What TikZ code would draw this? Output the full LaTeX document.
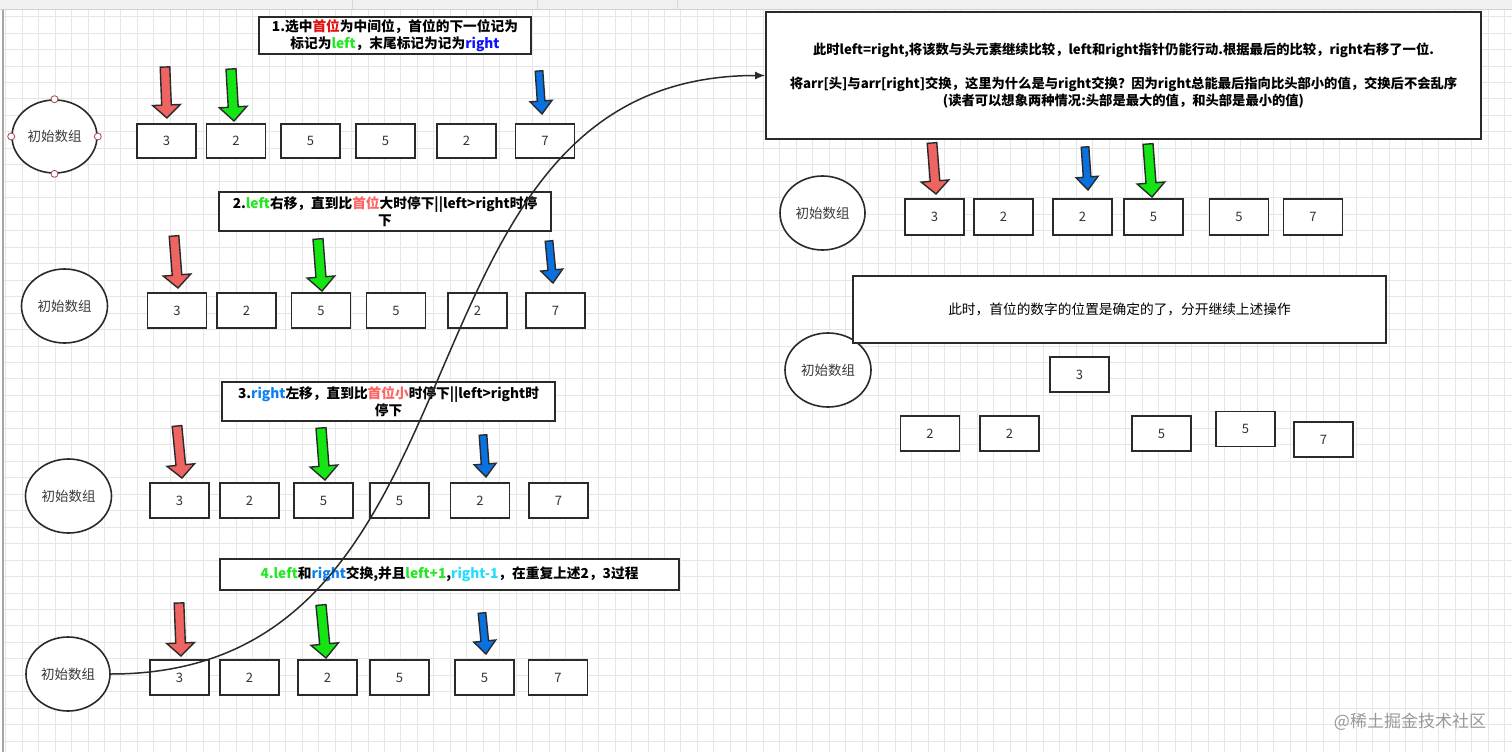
\documentclass[tikz,border=0pt]{standalone}
\usepackage{fontspec}
\setmainfont{Noto Sans CJK SC}
\usetikzlibrary{shapes.geometric,arrows.meta}
\definecolor{outl}{HTML}{2A2A2A}
\definecolor{gridc}{HTML}{E6E6E6}
\definecolor{numtxt}{HTML}{333333}
\definecolor{ovtxt}{HTML}{3A3A3A}
\definecolor{ared}{HTML}{EE6461}
\definecolor{agreen}{HTML}{14E614}
\definecolor{ablue}{HTML}{0A72E0}
\definecolor{cred}{HTML}{E51010}
\definecolor{lgreen}{HTML}{22E822}
\definecolor{dblue}{HTML}{1010FF}
\definecolor{salmon}{HTML}{FF6464}
\definecolor{mblue}{HTML}{0A7FF0}
\definecolor{ccyan}{HTML}{22DDFF}
\definecolor{handle}{HTML}{A0464E}
\newcommand\barr[8]{%
  \pgfmathsetmacro\BAdx{#3-#1}\pgfmathsetmacro\BAdy{#4-#2}%
  \pgfmathsetmacro\BAln{sqrt((\BAdx)*(\BAdx)+(\BAdy)*(\BAdy))}%
  \pgfmathsetmacro\BAux{(\BAdx)/(\BAln)}\pgfmathsetmacro\BAuy{(\BAdy)/(\BAln)}%
  \pgfmathsetmacro\BAbx{#3-#8*(\BAux)}\pgfmathsetmacro\BAby{#4-#8*(\BAuy)}%
  \draw[fill=#5, draw=outl, line width=1.4, line join=miter]
    (#3,#4) -- ({\BAbx-#7*(\BAuy)},{\BAby+#7*(\BAux)})
    -- ({\BAbx-#6*(\BAuy)},{\BAby+#6*(\BAux)})
    -- ({#1-#6*(\BAuy)},{#2+#6*(\BAux)})
    -- ({#1+#6*(\BAuy)},{#2-#6*(\BAux)})
    -- ({\BAbx+#6*(\BAuy)},{\BAby-#6*(\BAux)})
    -- ({\BAbx+#7*(\BAuy)},{\BAby-#7*(\BAux)}) -- cycle;}
\newcommand\redarr[4]{\barr{#1}{#2}{#3}{#4}{ared}{4.8}{13.8}{13}}
\newcommand\greenarr[4]{\barr{#1}{#2}{#3}{#4}{agreen}{5}{13.8}{14}}
\newcommand\bluearr[4]{\barr{#1}{#2}{#3}{#4}{ablue}{3.8}{11}{13}}
\tikzset{
  numbox/.style={draw=outl, line width=1.8, fill=white, minimum width=59, minimum height=35, inner sep=0,
    font=\fontsize{13}{15}\selectfont, text=numtxt},
  oval/.style={ellipse, draw=outl, line width=1.6, fill=white, minimum width=86, minimum height=74, inner sep=0,
    font=\fontsize{13.5}{15}\selectfont, text=ovtxt},
  note/.style={draw=outl, line width=1.8, fill=white, inner sep=0, align=center,
    font=\bfseries\fontsize{13.7}{17}\selectfont, text=black},
  hdl/.style={circle, draw=handle, fill=white, line width=0.8, minimum size=7, inner sep=0},
}
\begin{document}
\begin{tikzpicture}[x=1pt,y=-1pt]
\useasboundingbox (0,0) rectangle (1512,752);
\fill[white] (0,0) rectangle (1512,752);
% grid
\foreach \i in {0,...,91} \draw[gridc, line width=0.8] ({5.6+16.47*\i},10) -- ({5.6+16.47*\i},752);
\foreach \j in {0,...,45} \draw[gridc, line width=0.8] (4,{16.5+16.47*\j}) -- (1512,{16.5+16.47*\j});
% top strip and left edge
\fill[black!6] (0,0) rectangle (1512,9);
\draw[black!18, line width=0.8] (0,9.5) -- (1512,9.5);
\foreach \sx in {352,537,677} \draw[black!15, line width=0.8] (\sx,0) -- (\sx,9);
\draw[black!35, line width=1.2] (3,10) -- (3,752);

% ---------- row 1
\node[oval, minimum width=85, minimum height=73] (e1) at (54.5,136.5) {初始数组};
\node[hdl] (h1) at (e1.north) {};
\node[hdl] (h2) at (e1.south) {};
\node[hdl] (h3) at (e1.west) {};
\node[hdl] (h4) at (e1.east) {};
\node[numbox, minimum height=34] (a1) at (166.5,141) {3};
\node[numbox, minimum height=34] (a2) at (236,141) {2};
\node[numbox, minimum height=34] (a3) at (310.5,141) {5};
\node[numbox, minimum height=34] (a4) at (385.5,141) {5};
\node[numbox, minimum height=34] (a5) at (466.5,141) {2};
\node[numbox, minimum height=34] (a6) at (545,141) {7};
\node[note, minimum width=272, minimum height=37] (t1) at (395,35.5)
  {1.选中{\color{cred}首位}为中间位，首位的下一位记为\\标记为{\color{lgreen}left}，末尾标记为记为{\color{dblue}right}};
\redarr{165}{67}{167}{118}
\greenarr{231}{69}{234}{121}
\bluearr{539}{71}{542}{114}

% ---------- row 2
\node[oval] (e2) at (64.5,306) {初始数组};
\node[numbox] (b1) at (177,310.5) {3};
\node[numbox] (b2) at (246.5,310.5) {2};
\node[numbox] (b3) at (321,310.5) {5};
\node[numbox] (b4) at (396,310.5) {5};
\node[numbox] (b5) at (477.5,310.5) {2};
\node[numbox] (b6) at (555.5,310.5) {7};
\node[note, minimum width=332, minimum height=39] (t2) at (385,211.5)
  {2.{\color{lgreen}left}右移，直到比{\color{salmon}首位}大时停下||left>right时停\\下};
\redarr{174}{236}{178}{288}
\greenarr{318}{239}{322}{291}
\bluearr{549}{241}{553}{283}

% ---------- row 3
\node[oval] (e3) at (68.5,496) {初始数组};
\node[numbox] (c1) at (179.5,500.5) {3};
\node[numbox] (c2) at (249.5,500.5) {2};
\node[numbox] (c3) at (323.5,500.5) {5};
\node[numbox] (c4) at (399.5,500.5) {5};
\node[numbox] (c5) at (480,500.5) {2};
\node[numbox] (c6) at (558.5,500.5) {7};
\node[note, minimum width=333, minimum height=39] (t3) at (388.5,401.5)
  {3.{\color{mblue}right}左移，直到比{\color{salmon}首位小}时停下||left>right时\\停下};
\redarr{177}{426}{182}{478}
\greenarr{321}{428}{325}{480}
\bluearr{483}{435}{486}{477}

% ---------- row 4
\node[oval, minimum width=84] (e4) at (68,674) {初始数组};
\node[numbox] (d1) at (179.5,677.5) {3};
\node[numbox] (d2) at (249.5,677.5) {2};
\node[numbox] (d3) at (327.5,677.5) {2};
\node[numbox] (d4) at (399.5,677.5) {5};
\node[numbox] (d5) at (484.5,677.5) {5};
\node[numbox] (d6) at (558,677.5) {7};
\node[note, minimum width=459, minimum height=31] (t4) at (449.5,574.5)
  {{\color{lgreen}4.left}和{\color{mblue}right}交换,并且{\color{lgreen}left+1},{\color{ccyan}right-1}，在重复上述2，3过程};
\redarr{179}{603}{181}{656}
\greenarr{321}{605}{326}{658}
\bluearr{482}{613}{486}{654}

% ---------- right top
\node[note, minimum width=715, minimum height=127, font=\bfseries\fontsize{13.3}{17}\selectfont] (big) at (1123.5,75.5)
  {此时left=right,将该数与头元素继续比较，left和right指针仍能行动.根据最后的比较，right右移了一位.\\[17pt]
   将arr[头]与arr[right]交换，这里为什么是与right交换？因为right总能最后指向比头部小的值，交换后不会乱序\\
   (读者可以想象两种情况:头部是最大的值，和头部是最小的值)};
\node[oval, minimum width=85] (e5) at (822.5,213) {初始数组};
\node[numbox, minimum height=36] (f1) at (934.5,217) {3};
\node[numbox, minimum height=36] (f2) at (1003.5,217) {2};
\node[numbox, minimum height=36] (f3) at (1082.5,217) {2};
\node[numbox, minimum height=36] (f4) at (1153.5,217) {5};
\node[numbox, minimum height=36] (f5) at (1239,217) {5};
\node[numbox, minimum height=36] (f6) at (1313,217) {7};
\redarr{932}{143}{936}{194}
\bluearr{1085}{147}{1088}{190}
\greenarr{1148}{144}{1152}{197}

% ---------- right bottom
\node[oval] (e6) at (828,370) {初始数组};
\node[note, minimum width=533, minimum height=67, font=\fontsize{13.7}{17}\selectfont] (t6) at (1119.5,309.5)
  {此时，首位的数字的位置是确定的了，分开继续上述操作};
\node[numbox] (g1) at (1079.5,374.5) {3};
\node[numbox] (g2) at (930,433.5) {2};
\node[numbox] (g3) at (1009.5,433.5) {2};
\node[numbox] (g4) at (1161.5,433.5) {5};
\node[numbox] (g5) at (1245.5,429) {5};
\node[numbox] (g6) at (1323.5,439.5) {7};

% ---------- connector
\draw[outl, line width=1.5, -{Latex[length=10,width=8]}] (e4.east) .. controls (507,674) and (377,75.5) .. (big.west);

% watermark
\node[text=black!40, font=\fontsize{17}{18}\selectfont] (wm) at (1410,721.5) {@稀土掘金技术社区};
\end{tikzpicture}
\end{document}
